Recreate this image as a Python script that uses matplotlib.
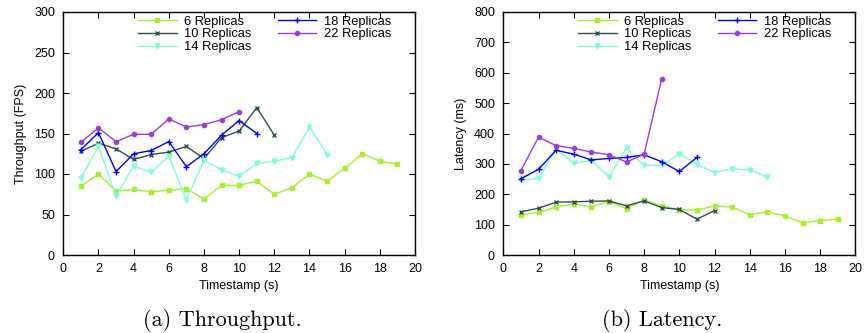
import matplotlib.pyplot as plt
import numpy as np

plt.rcParams['font.family'] = ['Liberation Sans', 'DejaVu Sans']

# Datos
ts6 = list(range(1, 20))
ts10 = list(range(1, 13))
ts14 = list(range(1, 16))
ts18 = list(range(1, 12))
ts22_thr = list(range(1, 11))
ts22_lat = list(range(1, 10))

thr6 = [85, 100, 79, 81, 78, 80, 82, 69, 86, 86, 91, 75, 83, 100, 91, 107, 125, 116, 112]
thr10 = [128, 138, 131, 118, 124, 127, 134, 119, 145, 153, 182, 148]
thr14 = [95, 134, 73, 110, 102, 122, 68, 117, 105, 97, 113, 116, 120, 158, 124]
thr18 = [130, 151, 103, 125, 129, 140, 109, 125, 148, 166, 150]
thr22 = [139, 157, 140, 149, 149, 168, 158, 161, 167, 177]

lat6 = [132, 140, 158, 168, 158, 176, 153, 181, 162, 149, 148, 161, 158, 132, 142, 129, 106, 113, 118]
lat10 = [142, 154, 174, 175, 177, 178, 162, 178, 156, 150, 118, 146]
lat14 = [246, 252, 349, 302, 311, 257, 353, 295, 295, 333, 300, 271, 284, 280, 257]
lat18 = [251, 282, 345, 332, 313, 318, 321, 330, 307, 275, 321]
lat22 = [278, 388, 360, 351, 339, 330, 306, 332, 580]

labels = ['6 Replicas', '10 Replicas', '14 Replicas', '18 Replicas', '22 Replicas']
colores = ['#a8f028', '#2f4f4f', '#7fffd4', '#0000ff', '#9a3de0']
marcas = ['s', 'x', 'v', '+', 'o']
tamanos = [3, 3.5, 3.5, 4.5, 3]

fig = plt.figure(figsize=(8.64, 3.33), dpi=100)

ax1 = fig.add_axes([63.3/864, 1-255/333, 351.7/864, 243/333])
ax2 = fig.add_axes([503.3/864, 1-255/333, 352/864, 243/333])


def dibuja(ax, xs, ys):
    for x, y, lab, c, m, s in zip(xs, ys, labels, colores, marcas, tamanos):
        ax.plot(x, y, color=c, marker=m, markersize=s, linewidth=1.0,
                markeredgewidth=1.0, label=lab)
    ax.set_xlim(0, 20)
    ax.set_xticks(np.arange(0, 21, 2))
    ax.tick_params(direction='in', top=True, right=True, length=4,
                   labelsize=9, pad=6)
    ax.set_xlabel('Timestamp (s)', fontsize=9, labelpad=3)
    for sp in ax.spines.values():
        sp.set_linewidth(1.0)
    ax.legend(ncol=2, loc='upper left', bbox_to_anchor=(0.212, 0.985),
              frameon=False, fontsize=9.3, borderpad=0, labelspacing=0.05,
              handlelength=3.0, handletextpad=0.6, columnspacing=2.0,
              borderaxespad=0)


dibuja(ax1, [ts6, ts10, ts14, ts18, ts22_thr], [thr6, thr10, thr14, thr18, thr22])
ax1.set_ylim(0, 300)
ax1.set_yticks(np.arange(0, 301, 50))
ax1.set_ylabel('Throughput (FPS)', fontsize=9, labelpad=5)

dibuja(ax2, [ts6, ts10, ts14, ts18, ts22_lat], [lat6, lat10, lat14, lat18, lat22])
ax2.set_ylim(0, 800)
ax2.set_yticks(np.arange(0, 801, 100))
ax2.set_ylabel('Latency (ms)', fontsize=9, labelpad=5)

# Pies de figura
fig.text(222.5/864, 1-320/333, '(a) Throughput.', family='cmr10', fontsize=16,
         ha='center', va='center')
fig.text(662.5/864, 1-320/333, '(b) Latency.', family='cmr10', fontsize=16,
         ha='center', va='center')

fig.savefig('out.png', dpi=100)
